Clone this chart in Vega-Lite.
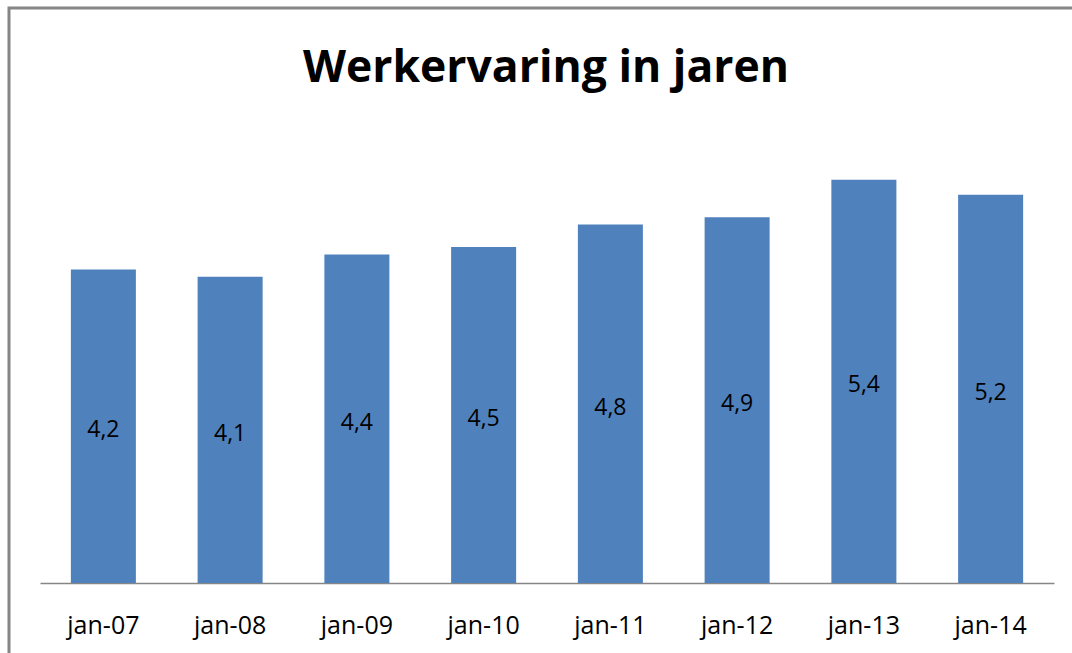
{
  "$schema": "https://vega.github.io/schema/vega-lite/v6.json",
  "width": 1074,
  "height": 655,
  "autosize": "none",
  "padding": {"left": 9, "top": 8, "right": -11, "bottom": -10},
  "background": "white",
  "title": {
    "text": "Werkervaring in jaren",
    "font": "Open Sans",
    "fontSize": 44.5,
    "fontWeight": "bold",
    "color": "#000000",
    "anchor": "middle",
    "frame": "group",
    "orient": "top",
    "offset": -118,
    "baseline": "alphabetic"
  },
  "data": {
    "values": [
      {"maand": "jan-07", "jaren": 4.2},
      {"maand": "jan-08", "jaren": 4.1},
      {"maand": "jan-09", "jaren": 4.4},
      {"maand": "jan-10", "jaren": 4.5},
      {"maand": "jan-11", "jaren": 4.8},
      {"maand": "jan-12", "jaren": 4.9},
      {"maand": "jan-13", "jaren": 5.4},
      {"maand": "jan-14", "jaren": 5.2}
    ]
  },
  "encoding": {
    "x": {
      "field": "maand",
      "type": "nominal",
      "sort": null,
      "scale": {"range": [31, 1045], "paddingInner": 0.487, "paddingOuter": 0.2435},
      "axis": {
        "title": null,
        "offset": -80,
        "ticks": false,
        "tickSize": 0,
        "labelAngle": 0,
        "labelFont": "Open Sans",
        "labelFontSize": 25,
        "labelColor": "#000000",
        "labelBaseline": "alphabetic",
        "labelPadding": 50,
        "domainColor": "#868686",
        "domainWidth": 1.5,
        "grid": false
      }
    }
  },
  "layer": [
    {
      "mark": {"type": "bar", "color": "#4F81BD"},
      "encoding": {
        "y": {
          "field": "jaren",
          "type": "quantitative",
          "scale": {"domain": [0, 6], "range": [575, 127], "nice": false},
          "axis": null
        }
      }
    },
    {
      "mark": {"type": "text", "font": "Open Sans", "fontSize": 23, "color": "#000000", "baseline": "middle", "dy": 4},
      "encoding": {
        "y": {
          "field": "jaren",
          "type": "quantitative",
          "scale": {"domain": [0, 12], "range": [575, 127], "nice": false},
          "axis": null
        },
        "text": {"field": "jaren", "type": "quantitative", "format": ".1f"}
      }
    }
  ],
  "resolve": {"scale": {"y": "independent"}},
  "config": {
    "locale": {
      "number": {"decimal": ",", "thousands": ".", "grouping": [3], "currency": ["€", ""]}
    },
    "view": {"stroke": "#868686", "strokeWidth": 3}
  }
}
